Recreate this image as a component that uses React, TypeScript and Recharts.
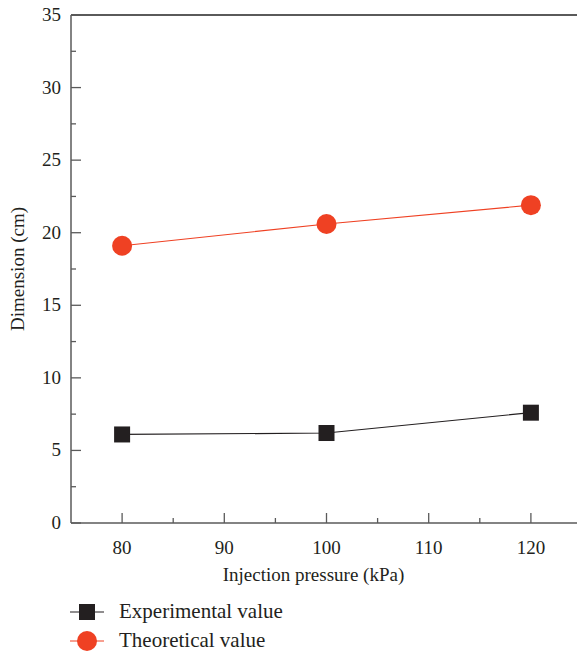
import { LineChart, Line, XAxis, YAxis, ReferenceLine } from 'recharts';

const pressures = [80, 100, 120];
const experimental = [6.1, 6.2, 7.6];
const theoretical = [19.1, 20.6, 21.9];
const seriesNames = ["Experimental value", "Theoretical value"];
const xTicks = [80, 85, 90, 95, 100, 105, 110, 115, 120];
const yTicks = [0, 2.5, 5, 7.5, 10, 12.5, 15, 17.5, 20, 22.5, 25, 27.5, 30, 32.5, 35];

const data = pressures.map((p, i) => ({
    pressure: p,
    experimental: experimental[i],
    theoretical: theoretical[i],
}));

const FONT = "Liberation Serif, Times New Roman, Tinos, DejaVu Serif, serif";
const TEXT = "#231f20";
const AXIS = "#5a5a5a";
const BLACK = "#231f20";
const RED = "#ef4123";

const XTick = ({ x, y, payload }: any) => {
    const major = payload.value % 10 === 0;
    return (
        <g>
            <line x1={x} y1={y} x2={x} y2={y - (major ? 10 : 5)} stroke={AXIS} strokeWidth={1.3} />
            {major && (
                <text x={x} y={y + 31} textAnchor="middle" fontSize={19} style={{ fontFamily: FONT }} fill={TEXT}>
                    {payload.value}
                </text>
            )}
        </g>
    );
};

const YTick = ({ x, y, payload }: any) => {
    const major = payload.value % 5 === 0;
    return (
        <g>
            <line x1={x} y1={y} x2={x + (major ? 10 : 5)} y2={y} stroke={AXIS} strokeWidth={1.3} />
            {major && (
                <text x={x - 10} y={y + 6} textAnchor="end" fontSize={19} style={{ fontFamily: FONT }} fill={TEXT}>
                    {payload.value}
                </text>
            )}
        </g>
    );
};

const SquareDot = ({ cx, cy }: any) => (
    <rect x={cx - 8} y={cy - 8} width={16} height={16} fill={BLACK} />
);

export default function App() {
    return (
        <div style={{ position: "relative", width: 577, height: 656, overflow: "hidden" }}>
            <style>{`body{margin:0;overflow:hidden;}`}</style>
            <LineChart width={590} height={656} data={data} margin={{ top: 15, right: 8, left: 10, bottom: 0 }}>
                <XAxis
                    dataKey="pressure"
                    type="number"
                    domain={[75, 125]}
                    ticks={xTicks}
                    interval={0}
                    height={133}
                    tickLine={false}
                    tickSize={0}
                    tickMargin={0}
                    tick={<XTick />}
                    stroke={AXIS}
                    strokeWidth={1.5}
                    label={({ viewBox }: any) => (
                        <text x={viewBox.x + viewBox.width / 2 - 13} y={viewBox.y + 58} textAnchor="middle"
                            fontSize={19} style={{ fontFamily: FONT }} fill={TEXT}>
                            Injection pressure (kPa)
                        </text>
                    )}
                />
                <YAxis
                    type="number"
                    domain={[0, 35]}
                    ticks={yTicks}
                    interval={0}
                    width={61}
                    tickLine={false}
                    tickSize={0}
                    tickMargin={0}
                    tick={<YTick />}
                    stroke={AXIS}
                    strokeWidth={1.5}
                    label={({ viewBox }: any) => {
                        const cy = viewBox.y + viewBox.height / 2;
                        return (
                            <text x={24} y={cy} transform={`rotate(-90 24 ${cy})`} textAnchor="middle"
                                fontSize={19} style={{ fontFamily: FONT }} fill={TEXT}>
                                Dimension (cm)
                            </text>
                        );
                    }}
                />
                <ReferenceLine y={35} stroke={AXIS} strokeWidth={2} />
                <Line
                    dataKey="experimental"
                    name={seriesNames[0]}
                    stroke={BLACK}
                    strokeWidth={1.2}
                    dot={<SquareDot />}
                    isAnimationActive={false}
                />
                <Line
                    dataKey="theoretical"
                    name={seriesNames[1]}
                    stroke={RED}
                    strokeWidth={1.2}
                    dot={{ r: 10, fill: RED, stroke: "none" }}
                    isAnimationActive={false}
                />
            </LineChart>
            <div style={{ position: "absolute", left: 70, top: 597, fontFamily: FONT, fontSize: 21, color: TEXT }}>
                {seriesNames.map((name, i) => (
                    <div key={name} style={{ display: "flex", alignItems: "center", height: 29 }}>
                        <svg width={34} height={22} style={{ marginRight: 15 }}>
                            <line x1={0} y1={11} x2={34} y2={11} stroke={i === 0 ? BLACK : RED} strokeWidth={1.2} />
                            {i === 0
                                ? <rect x={9} y={3} width={16} height={16} fill={BLACK} />
                                : <circle cx={17} cy={11} r={10} fill={RED} />}
                        </svg>
                        <span>{name}</span>
                    </div>
                ))}
            </div>
        </div>
    );
}
